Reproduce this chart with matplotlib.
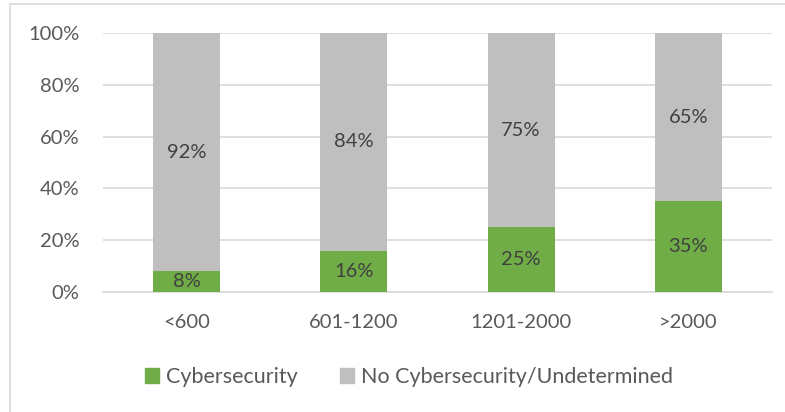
import matplotlib.pyplot as plt
from matplotlib.patches import Patch, Rectangle
import numpy as np

# Data
categories = ["<600", "601-1200", "1201-2000", ">2000"]
cyber = [8, 16, 25, 35]
no_cyber = [92, 84, 75, 65]
yticks = [0, 20, 40, 60, 80, 100]

green = "#70AD47"
gray = "#BFBFBF"
text_col = "#595959"
label_col = "#404040"
fs = 14.5

plt.rcParams['font.family'] = ['Lato', 'DejaVu Sans']

fig = plt.figure(figsize=(7.85, 4.12), dpi=100)
ax = fig.add_axes([103 / 785, 1 - 292 / 412, 669 / 785, 259 / 412])

x = np.arange(len(categories))
b1 = ax.bar(x, cyber, width=0.4, color=green, zorder=3)
b2 = ax.bar(x, no_cyber, width=0.4, bottom=cyber, color=gray, zorder=3)

# segment labels
for xi, c, n in zip(x, cyber, no_cyber):
    ax.text(xi, c / 2, f"{c}%", ha="center", va="center", fontsize=fs,
            color=label_col, zorder=4)
    ax.text(xi, c + n / 2, f"{n}%", ha="center", va="center", fontsize=fs,
            color=label_col, zorder=4)

ax.set_xlim(-0.5, len(categories) - 0.5)
ax.set_ylim(0, 100)
ax.set_yticks(yticks)
ax.set_yticklabels([f"{t}%" for t in yticks])
ax.set_xticks(x)
ax.set_xticklabels(categories)
ax.tick_params(axis="y", length=0, pad=17, labelsize=fs, labelcolor=text_col)
ax.tick_params(axis="x", length=0, pad=16, labelsize=fs, labelcolor=text_col)
ax.grid(axis="y", color="#D9D9D9", linewidth=1.2, zorder=0)
for s in ["top", "right", "left"]:
    ax.spines[s].set_visible(False)
ax.spines["bottom"].set_color("#D9D9D9")
ax.spines["bottom"].set_linewidth(1.2)

# legend
handles = [Patch(color=green, label="Cybersecurity"),
           Patch(color=gray, label="No Cybersecurity/Undetermined")]
fig.legend(handles=handles, loc="center", bbox_to_anchor=(409 / 785, 1 - 377 / 412),
           ncol=2, frameon=False, fontsize=15.5, labelcolor=text_col,
           handlelength=0.65, handleheight=0.65, handletextpad=0.3,
           columnspacing=2.0)

# chart border
fig.patches.append(Rectangle((9.5 / 785, -0.1), 1.2, 1 - 3.5 / 412 + 0.1,
                             transform=fig.transFigure, fill=False,
                             edgecolor="#D9D9D9", linewidth=1.2))

fig.savefig("out.png", dpi=100)
